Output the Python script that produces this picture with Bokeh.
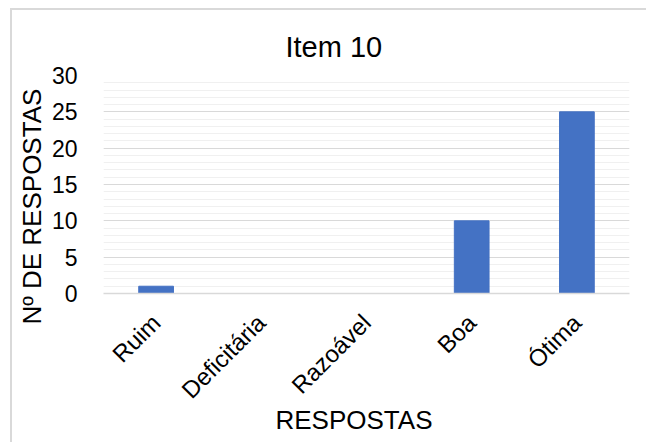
import math

from bokeh.embed import file_html
from bokeh.models import FactorRange, Range1d, SingleIntervalTicker, Title
from bokeh.plotting import figure
from bokeh.resources import INLINE

# Survey answers for item 10
categories = ["Ruim", "Deficitária", "Razoável", "Boa", "Ótima"]
counts = [1, 0, 0, 10, 25]
chart_title = "Item 10"
x_title = "RESPOSTAS"
y_title = "Nº DE RESPOSTAS"

FONT = "Liberation Sans"
BAR = "#4472C4"
TEXT = "#000000"

p = figure(
    x_range=FactorRange(factors=categories),
    y_range=Range1d(0, 30),
    width=636,
    height=434,
    output_backend="svg",
    toolbar_location=None,
    min_border_left=89,
    min_border_right=19,
    min_border_top=65,
    min_border_bottom=151,
)
p.styles = {
    "margin-left": "10px",
    "margin-top": "8px",
    "border-left": "2px solid #d9d9d9",
    "border-top": "2px solid #d9d9d9",
}
p.background_fill_color = "white"
p.border_fill_color = "white"
p.outline_line_color = None

p.vbar(x=categories, top=counts, width=0.33, color=BAR)

# y axis: majors every 5, minor grid every 1
p.yaxis.ticker = SingleIntervalTicker(interval=5, num_minor_ticks=5)
p.yaxis.axis_line_color = None
p.yaxis.major_tick_line_color = None
p.yaxis.minor_tick_line_color = None
p.yaxis.major_label_text_font = FONT
p.yaxis.major_label_text_font_size = "23px"
p.yaxis.major_label_text_color = TEXT
p.yaxis.major_label_standoff = 20

p.ygrid.grid_line_color = "#d9d9d9"
p.ygrid.grid_line_width = 1
p.ygrid.minor_grid_line_color = "#f0f0f0"
p.ygrid.minor_grid_line_width = 1
p.xgrid.grid_line_color = None

# x axis: slanted category names
p.xaxis.axis_line_color = "#d9d9d9"
p.xaxis.axis_line_width = 1.5
p.xaxis.major_tick_line_color = None
p.xaxis.minor_tick_line_color = None
p.xaxis.major_label_orientation = math.pi / 4
p.xaxis.major_label_text_font = FONT
p.xaxis.major_label_text_font_size = "24px"
p.xaxis.major_label_text_color = TEXT
p.xaxis.major_label_standoff = 19

# chart and axis titles
p.title = Title(text=chart_title, align="left", offset=182, standoff=26,
                text_font=FONT, text_font_size="29px", text_color=TEXT,
                text_font_style="normal")
p.add_layout(Title(text=x_title, align="left", offset=172, standoff=-24,
                   vertical_align="top",
                   text_font=FONT, text_font_size="26px", text_color=TEXT,
                   text_font_style="normal"), "below")
p.add_layout(Title(text=y_title, align="left", offset=-31, standoff=4,
                   text_font=FONT, text_font_size="26px", text_color=TEXT,
                   text_font_style="normal"), "left")

open("out.html", "w").write(file_html(p, INLINE))
